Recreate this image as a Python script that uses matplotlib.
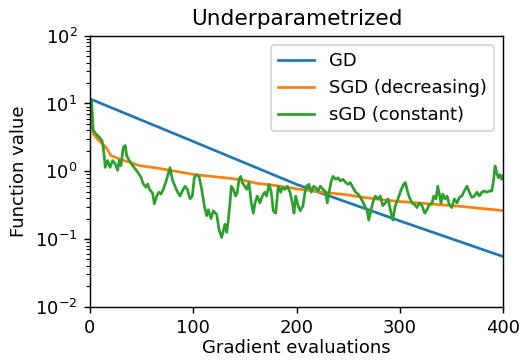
import matplotlib
matplotlib.use("Agg")
import matplotlib.pyplot as plt

# GD (full gradient) - almost straight on log scale
gd_x = [0, 100, 200, 300, 400]
gd_y = [11.7, 2.75, 0.64, 0.185, 0.055]

# SGD with decreasing step size
sgd_dec_x = [0, 1, 3, 8, 15.5, 20.3, 28.4, 38, 47.7, 64, 77.5, 101.7, 130.7, 146,
             162, 178, 200, 225, 248.6, 264.8, 297, 329, 361.5, 397, 400]
sgd_dec_y = [11.5, 6.0, 3.6, 2.9, 2.26, 1.7, 1.52, 1.36, 1.21, 1.12, 1.03, 0.89, 0.80, 0.75,
             0.66, 0.62, 0.55, 0.49, 0.45, 0.41, 0.36, 0.33, 0.30, 0.265, 0.26]

# sGD with constant step size, (evaluations, value)
sgd_const = [
    (0, 11.5), (1.5, 11.0), (3.2, 4.0), (5.8, 3.55), (9, 3.17), (11.6, 2.83), (12.9, 2.26),
    (13.9, 1.61), (14.8, 1.14), (17.1, 1.44), (19.4, 1.14), (22, 1.44), (24.5, 1.28),
    (26.8, 1.03), (28.4, 1.44), (30, 1.21), (32.3, 2.26), (34.2, 2.4), (35.5, 1.7),
    (38, 1.44), (41.3, 1.21), (46.2, 0.97), (49.4, 0.81), (51.6, 0.65), (54.2, 0.58),
    (55.9, 0.65), (57.4, 0.55), (60.7, 0.47), (62.3, 0.33),
    (64.6, 0.43), (66.8, 0.49), (68.8, 0.46), (71, 0.54), (74.3, 0.76), (77.5, 1.13),
    (79.7, 0.76), (82.3, 0.60), (84.9, 0.49), (87.2, 0.43), (89.4, 0.51), (92, 0.60),
    (94.3, 0.54), (96.9, 0.39), (99.1, 0.43), (101, 0.80), (103.3, 0.89), (105.6, 0.84),
    (108.2, 0.54), (110.7, 0.31), (113, 0.22), (114.6, 0.27), (117.2, 0.20), (119.4, 0.26),
    (122.7, 0.23), (124.9, 0.14), (127.5, 0.105), (129, 0.13), (130.7, 0.165),
    (132.4, 0.125), (133.7, 0.175), (135.6, 0.34), (136.9, 0.60), (138.8, 0.54),
    (141.1, 0.43), (142.7, 0.49), (144.3, 0.76), (146, 0.84), (147.5, 0.68), (149.8, 0.60),
    (151.8, 0.54), (154, 0.68), (156.2, 0.34), (158.2, 0.24), (159.8, 0.34), (162, 0.43),
    (164.6, 0.34), (166.9, 0.43), (169.2, 0.49), (171.1, 0.43), (173.4, 0.64), (175.6, 0.49),
    (177.5, 0.26), (179.9, 0.24), (181.4, 0.43), (182.4, 0.60), (184.7, 0.49), (186.2, 0.57),
    (188.6, 0.54), (191.1, 0.60), (193.7, 0.49), (196, 0.34), (197.6, 0.24),
    (199.2, 0.43), (201.5, 0.31), (203.7, 0.26), (206.3, 0.31), (207.9, 0.46), (209.5, 0.60),
    (212.1, 0.64), (214.3, 0.49), (216.6, 0.60), (218.6, 0.57), (220.8, 0.51), (223, 0.60),
    (225.7, 0.54), (228.3, 0.49), (229.8, 0.34), (231.5, 0.49), (233.7, 0.72), (235.4, 0.84),
    (238, 0.76), (240.2, 0.80), (242.4, 0.72), (245, 0.76), (247.7, 0.68), (249.9, 0.64),
    (252.1, 0.68), (254.7, 0.57), (257.3, 0.49), (259.6, 0.46), (262.8, 0.39),
    (266, 0.31), (268.3, 0.27), (269.9, 0.19), (271.5, 0.24), (273.8, 0.34), (276.3, 0.43),
    (278.9, 0.39), (281.2, 0.43), (283.5, 0.31), (286.1, 0.34), (288.7, 0.39), (290.9, 0.27),
    (293.2, 0.19), (295.7, 0.31), (298.3, 0.39), (301.5, 0.54), (303.8, 0.64), (305.4, 0.68),
    (307, 0.54), (309.3, 0.41), (311.9, 0.34), (314.5, 0.32), (316.7, 0.29), (318.9, 0.34),
    (321.5, 0.31), (324.2, 0.24), (326.4, 0.27), (328, 0.31), (331.2, 0.34),
    (332.9, 0.43), (335.1, 0.39), (336.8, 0.60), (338.3, 0.46), (340, 0.34), (341.6, 0.46),
    (343.8, 0.39), (345.8, 0.43), (348, 0.32), (350.3, 0.29), (352.9, 0.39), (355.4, 0.34),
    (357.7, 0.41), (360, 0.43), (362.5, 0.51), (365.1, 0.60), (367.4, 0.49), (369.7, 0.41),
    (372.2, 0.43), (374.8, 0.49), (377.1, 0.43), (379.4, 0.49), (382, 0.51), (384.5, 0.49),
    (386.8, 0.51), (389.1, 0.51), (391, 0.76), (392.3, 1.19), (393.9, 0.95), (395.5, 0.80),
    (397.1, 0.89), (398.7, 0.76), (400, 0.85),
]
sgd_const_x = [p[0] for p in sgd_const]
sgd_const_y = [p[1] for p in sgd_const]

fig = plt.figure(figsize=(521 / 130, 361 / 130), dpi=130)
ax = fig.add_axes([0.1727, 0.1504, 0.7928, 0.7506])

ax.plot(gd_x, gd_y, color="tab:blue", label="GD")
ax.plot(sgd_dec_x, sgd_dec_y, color="tab:orange", label="SGD (decreasing)")
ax.plot(sgd_const_x, sgd_const_y, color="tab:green", label="sGD (constant)")

ax.set_yscale("log")
ax.set_xlim(0, 400)
ax.set_ylim(1e-2, 1e2)
ax.set_xlabel("Gradient evaluations", labelpad=1)
ax.set_ylabel("Function value")
ax.set_title("Underparametrized")
ax.legend(loc="upper right")

fig.savefig("out.png", dpi=130)
